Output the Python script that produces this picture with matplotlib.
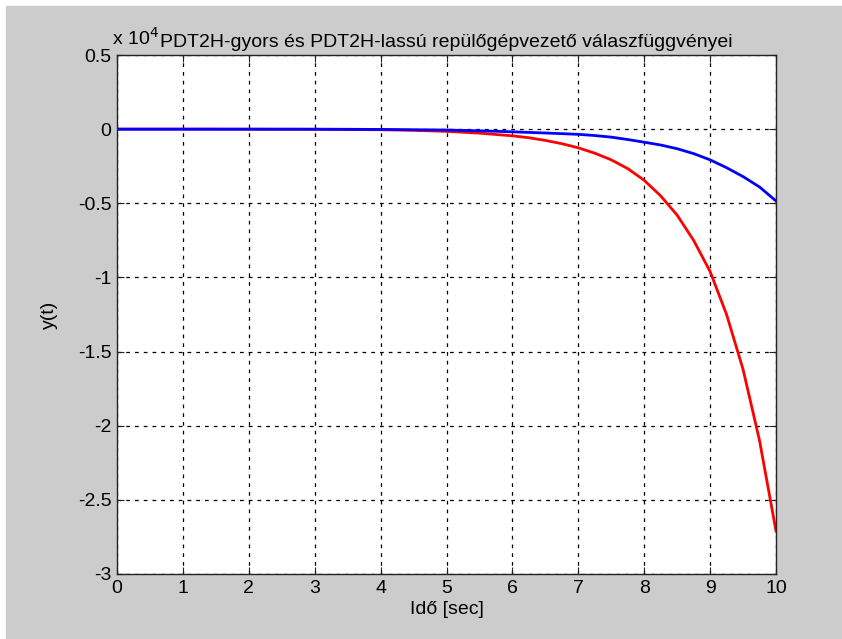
import numpy as np
import matplotlib.pyplot as plt
from matplotlib.patches import Rectangle

plt.rcParams['font.family'] = ['Liberation Sans', 'DejaVu Sans']

# idő [sec]
t_red = [0, 1, 2, 3, 4, 4.5, 5, 5.5, 6, 6.25, 6.5, 6.75, 7, 7.25, 7.5,
         7.75, 8, 8.25, 8.5, 8.75, 9, 9.25, 9.5, 9.75, 10]
# PDT2H-lassú (x 1e4)
y_red = [0, 0, -0.0005, -0.0015, -0.004, -0.008, -0.015, -0.027, -0.045,
         -0.058, -0.076, -0.098, -0.126, -0.162, -0.207, -0.266, -0.345,
         -0.45, -0.58, -0.75, -0.96, -1.25, -1.62, -2.10, -2.71]

t_blue = [0, 1, 2, 3, 4, 5, 5.5, 6, 6.5, 7, 7.25, 7.5, 7.75, 8, 8.25,
          8.5, 8.75, 9, 9.25, 9.5, 9.75, 10]
# PDT2H-gyors (x 1e4)
y_blue = [0, 0, 0, 0, -0.002, -0.006, -0.011, -0.018, -0.026, -0.035,
          -0.043, -0.054, -0.07, -0.088, -0.107, -0.132, -0.165, -0.207,
          -0.26, -0.32, -0.39, -0.484]

scale = 1e4
y_red = np.array(y_red) * scale
y_blue = np.array(y_blue) * scale

x_ticks = list(range(0, 11))
y_ticks = [0.5, 0, -0.5, -1, -1.5, -2, -2.5, -3]
y_tick_labels = ['0.5', '0', '-0.5', '-1', '-1.5', '-2', '-2.5', '-3']

fs = 14

fig = plt.figure(figsize=(8.42, 6.39), dpi=100, facecolor='white')
fig.patches.append(Rectangle((6 / 842, 0), 1, 1 - 6 / 639,
                             transform=fig.transFigure, color='#cccccc',
                             zorder=-1))

ax = fig.add_axes([117 / 842, 1 - 574 / 639, 659 / 842, 519 / 639])
ax.set_facecolor('white')

ax.plot(t_red, y_red / scale, color='red', lw=2)
ax.plot(t_blue, y_blue / scale, color='blue', lw=2)

ax.set_xlim(0, 10)
ax.set_ylim(-3, 0.5)
ax.set_xticks(x_ticks)
ax.set_xticklabels([str(v) for v in x_ticks])
ax.set_yticks(y_ticks)
ax.set_yticklabels(y_tick_labels)

ax.grid(True, color='black', linestyle=(0, (3, 4)), linewidth=0.9)
ax.tick_params(direction='in', top=True, right=True, length=5,
               labelsize=fs, pad=4, color='#222222')
for s in ax.spines.values():
    s.set_color('#222222')
    s.set_linewidth(1)

ax.set_xlabel('Idő [sec]', fontsize=fs, labelpad=3)
ax.set_ylabel('y(t)', fontsize=fs, labelpad=14)
ax.set_title('PDT2H-gyors és PDT2H-lassú repülőgépvezető válaszfüggvényei',
             fontsize=fs, pad=6)
ax.text(-0.008, 1.012, r'x 10$^{4}$', transform=ax.transAxes,
        fontsize=fs, ha='left', va='bottom')

fig.savefig('out.png', dpi=100, facecolor=fig.get_facecolor())
